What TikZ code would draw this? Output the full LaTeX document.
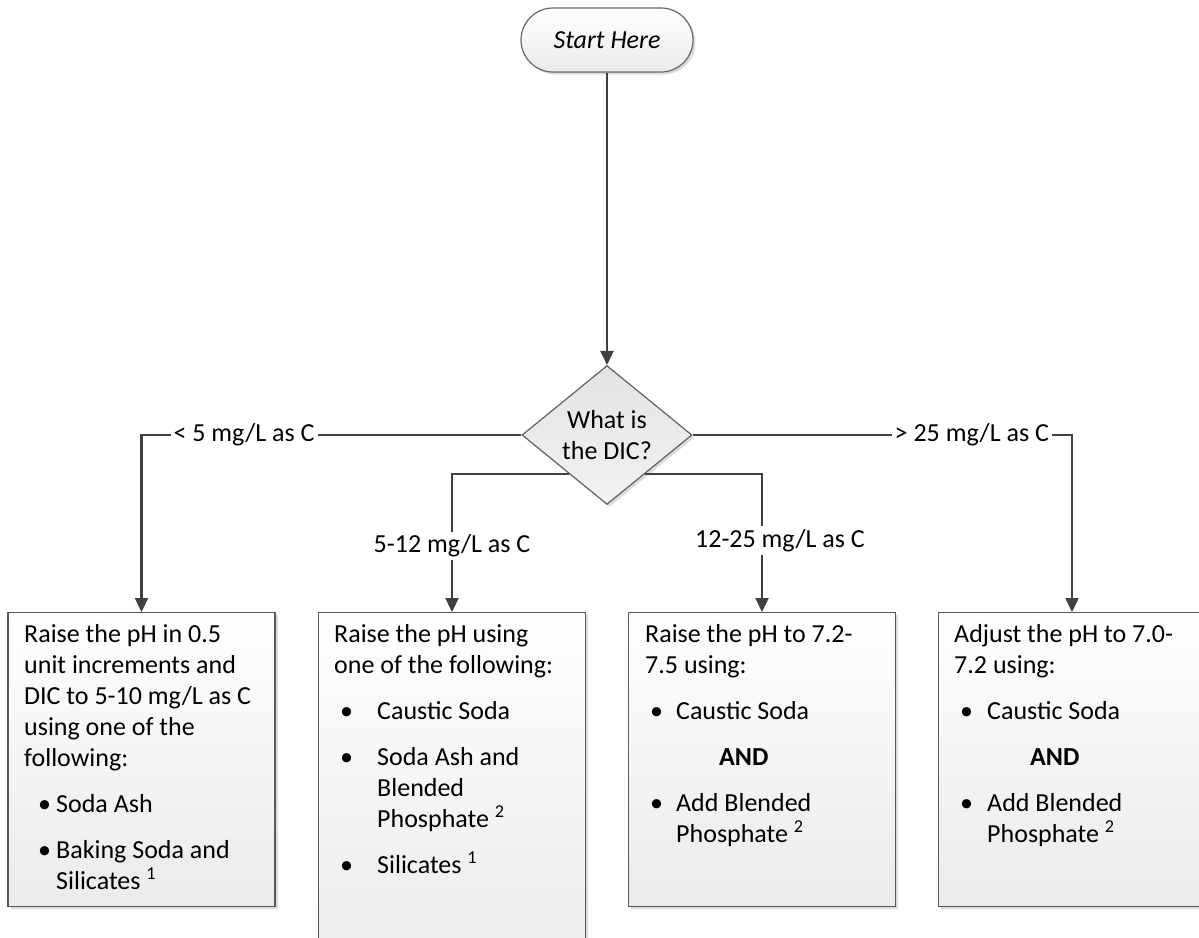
\documentclass[tikz,border=0pt]{standalone}
\usepackage{fontspec}
\setmainfont{Carlito}
\usetikzlibrary{arrows.meta,shapes.geometric,shadows,calc}
\definecolor{linec}{HTML}{404040}
\definecolor{boxline}{HTML}{5A5A5A}
\newcommand\bitem[3]{\hspace*{#1}\makebox[#2][l]{\textbullet}#3}
\newcommand\contline[1]{\hspace*{#1}}
\begin{document}
\begin{tikzpicture}[x=1pt,y=-1pt,
  every node/.style={font=\fontsize{26pt}{31pt}\selectfont, text=black},
  conn/.style={draw=linec, line width=2.3pt, -{Triangle[length=14pt,width=13pt]}},
  lbl/.style={fill=white, inner sep=3pt},
  shadowed/.style={drop shadow={shadow xshift=2.5pt, shadow yshift=-2.5pt, opacity=0.14, fill=black}},
  stepbox/.style={rectangle, draw=boxline, line width=1.3pt, top color=white, bottom color=black!8, shadowed, minimum width=267, anchor=north, inner sep=0pt},
  startbox/.style={rectangle, rounded corners=32pt, draw=black!60, line width=1.2pt, top color=white, bottom color=black!8, shadowed, minimum width=172, minimum height=64, inner sep=0pt},
  decbox/.style={diamond, draw=black!62, line width=1.2pt, top color=black!11, bottom color=black!5, shadowed, minimum width=170, minimum height=126, inner sep=0pt, align=center},
  txt/.style={anchor=base west, inner sep=0pt}
]
\clip (0,0) rectangle (1199,937);
\fill[white] (0,0) rectangle (1199,937);

% nodes
\node[startbox] (start) at (607,40) {\itshape Start Here};
\node[decbox] (d) at (607,435) {What is\\the DIC?};

\node[stepbox, minimum height=294] (b1) at (141.5,612) {};
\node[stepbox, minimum height=360] (b2) at (452,612) {};
\node[stepbox, minimum height=294] (b3) at (762,612) {};
\node[stepbox, minimum height=294] (b4) at (1072,612) {};

% texts
\node[txt] (t1) at (24,642) {\parbox[t]{250pt}{\raggedright
Raise the pH in 0.5\\unit increments and\\DIC to 5-10 mg/L as C\\using one of the\\following:\\[15pt]
\bitem{14pt}{18pt}{Soda Ash}\\[15pt]
\bitem{14pt}{18pt}{Baking Soda and}\\
\contline{32pt}Silicates \textsuperscript{1}}};

\node[txt] (t2) at (334,642) {\parbox[t]{250pt}{\raggedright
Raise the pH using\\one of the following:\\[15pt]
\bitem{6pt}{37pt}{Caustic Soda}\\[15pt]
\bitem{6pt}{37pt}{Soda Ash and}\\
\contline{43pt}Blended\\
\contline{43pt}Phosphate \textsuperscript{2}\\[15pt]
\bitem{6pt}{37pt}{Silicates \textsuperscript{1}}}};

\node[txt] (t3) at (645,642) {\parbox[t]{250pt}{\raggedright
Raise the pH to 7.2-\\7.5 using:\\[15pt]
\bitem{5pt}{26pt}{Caustic Soda}\\[15pt]
\contline{74pt}\textbf{AND}\\[15pt]
\bitem{5pt}{26pt}{Add Blended}\\
\contline{31pt}Phosphate \textsuperscript{2}}};

\node[txt] (t4) at (954,642) {\parbox[t]{250pt}{\raggedright
Adjust the pH to 7.0-\\7.2 using:\\[15pt]
\bitem{6pt}{27pt}{Caustic Soda}\\[15pt]
\contline{76pt}\textbf{AND}\\[15pt]
\bitem{6pt}{27pt}{Add Blended}\\
\contline{33pt}Phosphate \textsuperscript{2}}};

% connectors
\draw[conn] (start.south) -- (d.north);
\draw[conn] (d.west) -| (b1.north) node[lbl, pos=0.365] {< 5 mg/L as C};
\draw[conn] (d.east) -| (b4.north) node[lbl, pos=0.368] {> 25 mg/L as C};
\coordinate (dl) at ($(d.west)!0.56!(d.south)$);
\coordinate (dr) at ($(d.east)!0.56!(d.south)$);
\draw[conn] (dl) -| (b2.north) node[lbl, pos=0.76] {5-12 mg/L as C};
\draw[conn] (dr) -| (b3.north) node[lbl, pos=0.74, xshift=18pt] {12-25 mg/L as C};
\end{tikzpicture}
\end{document}
